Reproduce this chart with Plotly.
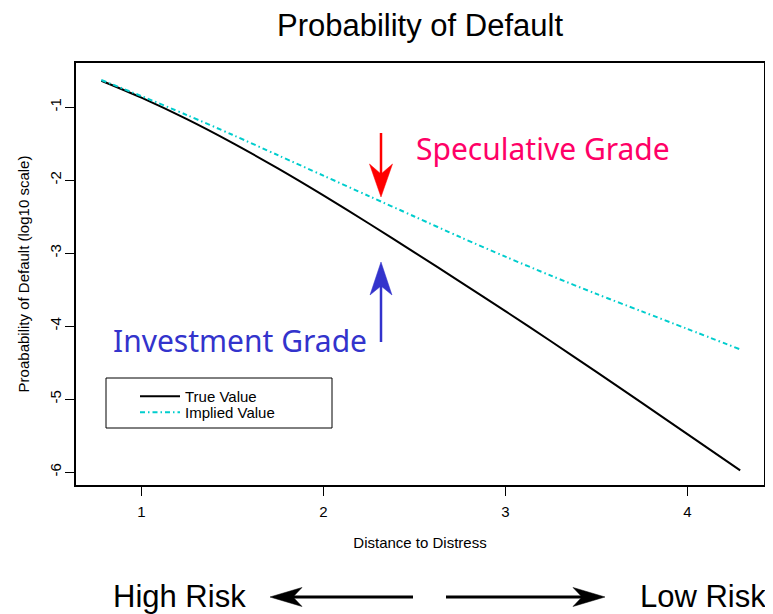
import plotly.graph_objects as go

# ---- data ----
distance = [0.78, 1.0, 1.25, 1.5, 1.75, 2.0, 2.25, 2.5, 2.75, 3.0, 3.25, 3.5, 3.75, 4.0, 4.29]
true_value = [-0.64, -0.871, -1.166, -1.491, -1.841, -2.211, -2.596, -2.991, -3.391, -3.796,
              -4.2085, -4.6285, -5.0535, -5.481, -5.977]
implied_value = [-0.63, -0.85, -1.11, -1.38, -1.66, -1.94, -2.22, -2.50, -2.78, -3.05,
                 -3.31, -3.56, -3.80, -4.04, -4.32]
x_ticks = [1, 2, 3, 4]
y_ticks = [-1, -2, -3, -4, -5, -6]

# page offset (browser body margin) and plot area in window pixels
OFF = 8
L, R, T, B = 76, 764, 63, 485
W, H = 773 - OFF, 614 - OFF


def PX(x):
    return (x - L) / (R - L)


def PY(y):
    return (B - y) / (B - T)


AX_FONT = "Liberation Sans, Arial, sans-serif"
GRADE_FONT = "Noto Sans, DejaVu Sans, sans-serif"

fig = go.Figure()
fig.add_trace(go.Scatter(x=distance, y=true_value, mode="lines", name="True Value",
                         legend="legend",
                         line=dict(color="black", width=2, shape="spline", smoothing=0.8)))
fig.add_trace(go.Scatter(x=distance, y=implied_value, mode="lines", name="Implied Value",
                         legend="legend2",
                         line=dict(color="#00CDCD", width=2, dash="5px,3px,1.5px,3px",
                                   shape="spline", smoothing=0.8)))

shapes = []
# legend frame
shapes.append(dict(type="rect", xref="paper", yref="paper",
                   x0=PX(106), x1=PX(332), y0=PY(428), y1=PY(378),
                   line=dict(color="black", width=1), fillcolor="rgba(0,0,0,0)"))


def arrow(color, shaft, head, width):
    (sx0, sy0), (sx1, sy1) = shaft
    shapes.append(dict(type="line", xref="paper", yref="paper",
                       x0=PX(sx0), y0=PY(sy0), x1=PX(sx1), y1=PY(sy1),
                       line=dict(color=color, width=width)))
    path = "M" + " L".join(f"{PX(x):.5f},{PY(y):.5f}" for x, y in head) + " Z"
    shapes.append(dict(type="path", xref="paper", yref="paper", path=path,
                       fillcolor=color, line=dict(color=color, width=0.5)))


# red arrow (speculative grade) pointing down
arrow("#FF0000", ((381, 133), (381, 176)),
      [(381, 197), (369.5, 164), (381, 174), (392.5, 164)], 2.5)
# blue arrow (investment grade) pointing up
arrow("#3333CC", ((381, 342), (381, 283)),
      [(381, 262), (370, 295), (381, 286), (392, 295)], 2.5)
# bottom arrows
arrow("black", ((413, 597), (292, 597)),
      [(270, 597), (302, 587.5), (293, 597), (302, 606.5)], 3)
arrow("black", ((446, 597), (583, 597)),
      [(605, 597), (573, 587.5), (582, 597), (573, 606.5)], 3)

annotations = [
    dict(text="Speculative Grade", xref="paper", yref="paper", x=PX(414), y=PY(148),
         xanchor="left", yanchor="middle", showarrow=False,
         font=dict(family=GRADE_FONT, size=30, color="#FF0066")),
    dict(text="Investment Grade", xref="paper", yref="paper", x=PX(111), y=PY(340),
         xanchor="left", yanchor="middle", showarrow=False,
         font=dict(family=GRADE_FONT, size=30, color="#3333CC")),
    dict(text="High Risk", xref="paper", yref="paper", x=PX(111), y=PY(596),
         xanchor="left", yanchor="middle", showarrow=False,
         font=dict(family=AX_FONT, size=31, color="black")),
    dict(text="Low Risk", xref="paper", yref="paper", x=PX(638), y=PY(596),
         xanchor="left", yanchor="middle", showarrow=False,
         font=dict(family=AX_FONT, size=31, color="black")),
]

legend_common = dict(xanchor="left", yanchor="top", bgcolor="rgba(0,0,0,0)",
                     borderwidth=0, itemwidth=40,
                     font=dict(family=AX_FONT, size=15, color="black"))

fig.update_layout(
    width=W, height=H,
    margin=dict(l=L - OFF, r=W - (R - OFF), t=T - OFF, b=H - (B - OFF), autoexpand=False),
    paper_bgcolor="white", plot_bgcolor="white",
    title=dict(text="Probability of Default", x=0.5, xref="paper", xanchor="center",
               y=1 - (25 - OFF) / H, yref="container", yanchor="middle",
               font=dict(family=AX_FONT, size=31, color="black")),
    showlegend=True,
    legend=dict(x=PX(135), y=PY(380), **legend_common),
    legend2=dict(x=PX(135), y=PY(396), **legend_common),
    shapes=shapes,
    annotations=annotations,
    hovermode=False,
)

fig.update_xaxes(range=[0.6407, 4.4209], tickvals=x_ticks, ticktext=[str(v) for v in x_ticks],
                 showgrid=False, zeroline=False, showline=True, linecolor="black", linewidth=2,
                 mirror=True, ticks="outside", ticklen=9, tickwidth=1, tickcolor="black",
                 ticklabelstandoff=3, automargin=False,
                 tickfont=dict(family=AX_FONT, size=15, color="black"),
                 title=dict(text="Distance to Distress", standoff=18,
                            font=dict(family=AX_FONT, size=15, color="black")))
fig.update_yaxes(range=[-6.178, -0.397], tickvals=y_ticks, ticktext=[str(v) for v in y_ticks],
                 showgrid=False, zeroline=False, showline=True, linecolor="black", linewidth=2,
                 mirror=True, ticks="outside", ticklen=9, tickwidth=1, tickcolor="black",
                 tickangle=-90, ticklabelstandoff=-2, automargin=False,
                 tickfont=dict(family=AX_FONT, size=15, color="black"),
                 title=dict(text="Proabability of Default (log10 scale)", standoff=14,
                            font=dict(family=AX_FONT, size=15, color="black")))

fig.write_html("out.html")
